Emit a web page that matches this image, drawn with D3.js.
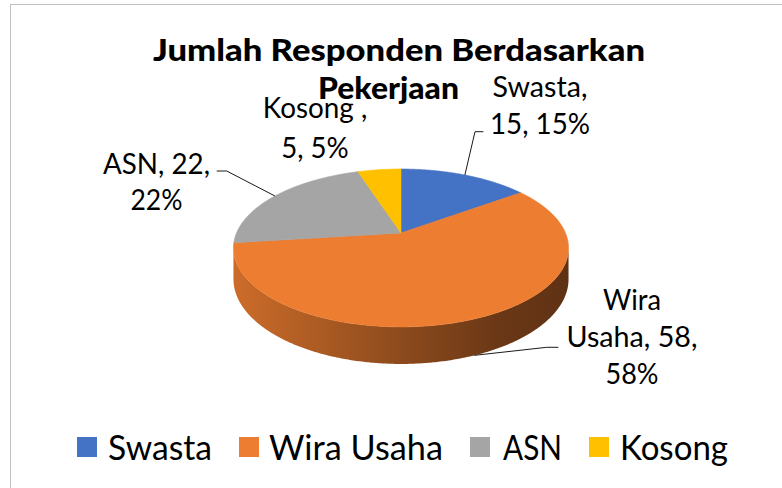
<!DOCTYPE html>
<html>
<head>
<meta charset="utf-8">
<script src="https://cdn.jsdelivr.net/npm/d3@7"></script>
<style>
  html, body { margin: 0; padding: 0; background: #fff; }
  svg { display: block; }
</style>
</head>
<body>
<svg id="chart" width="782" height="488"></svg>
<script>
// ---- data ----
const categories = ["Swasta", "Wira Usaha", "ASN", "Kosong "];
const values = [15, 58, 22, 5];
const titleLines = ["Jumlah Responden Berdasarkan", "Pekerjaan"];

// ---- styles / layout ----
const colors = ["#4472C4", "#ED7D31", "#A5A5A5", "#FFC000"];
const geo = { cx: 401, cy: 233, rx: 164.5, ry: 76.1, D: 5.27, depth: 30 };
const font = "Lato, 'Open Sans', sans-serif";

const labelLayout = [
  { breaks: [1, 3], cx: 540, base: 97, lh: 37, w: [95, 100], leader: [[483.3, 131.7], [475, 131.7]], toBottom: false },
  { breaks: [1, 3, 4], cx: 632, base: 309.5, lh: 37, w: [58, 131, 53], leader: [[558.3, 347.3], [546.7, 347.3]], toBottom: true },
  { breaks: [2, 3], cx: 156.5, base: 174, lh: 36, w: [107, 52], leader: [[216.7, 171], [226.7, 171]], toBottom: false },
  { breaks: [2, 4], cx: 315, base: 117.5, lh: 40, w: [104.5, 67.5], leader: null }
];
const legendLayout = { y: 437, size: 20, base: 460,
  items: [ { sx: 77, tx: 108, tw: 104 }, { sx: 239, tx: 269, tw: 174 },
           { sx: 470, tx: 503, tw: 59 }, { sx: 589, tx: 620, tw: 108 } ] };
const titleLayout = [{ x: 399, y: 61, w: 492 }, { x: 388.5, y: 99, w: 141 }];

const svg = d3.select("#chart");
const color = d3.scaleOrdinal().domain(categories).range(colors);

// border (chart area frame)
svg.append("rect").attr("x", 10.5).attr("y", 4.5).attr("width", 900).attr("height", 600)
  .attr("fill", "#fff").attr("stroke", "#BFBFBF").attr("stroke-width", 1);

// ---- projection for 3D pie (clockwise from 12 o'clock, far side up) ----
function proj(theta, drop) {
  const x = Math.sin(theta), z = -Math.cos(theta);
  const s = geo.D / (geo.D - z);
  return [geo.cx + geo.rx * x * s, geo.cy + geo.ry * z * s + (drop || 0) * s];
}
const step = Math.PI / 360;
function arcPts(a0, a1, drop) {
  const n = Math.max(2, Math.ceil((a1 - a0) / step));
  return d3.range(n + 1).map(i => proj(a0 + (a1 - a0) * i / n, drop));
}

const pie = d3.pie().sort(null).value(d => d.value).startAngle(0).endAngle(2 * Math.PI);
const data = categories.map((c, i) => ({ cat: c, value: values[i] }));
const arcs = pie(data);
const total = d3.sum(values);

// per-slice side-wall gradients
const defs = svg.append("defs");
arcs.forEach((a, i) => {
  const g = defs.append("linearGradient").attr("id", "sideGrad" + i)
    .attr("gradientUnits", "userSpaceOnUse")
    .attr("x1", geo.cx - geo.rx * 1.02).attr("x2", geo.cx + geo.rx * 1.02)
    .attr("y1", 0).attr("y2", 0);
  const c = d3.rgb(colors[i]);
  [[0, 0.86], [0.45, 0.62], [0.78, 0.45], [1, 0.4]].forEach(([o, k]) => {
    g.append("stop").attr("offset", o)
      .attr("stop-color", d3.rgb(c.r * k, c.g * k, c.b * k).formatHex());
  });
});

const line = d3.line();
const thL = Math.acos(-1 / geo.D), thR = 2 * Math.PI - thL;

// side walls
const sides = svg.append("g");
arcs.forEach((a, i) => {
  const a0 = Math.max(a.startAngle, thL), a1 = Math.min(a.endAngle, thR);
  if (a1 <= a0) return;
  const top = arcPts(a0, a1, 0);
  const bot = arcPts(a0, a1, geo.depth).reverse();
  sides.append("path").attr("d", line(top.concat(bot)) + "Z")
    .attr("fill", "url(#sideGrad" + i + ")");
});

// top faces
const tops = svg.append("g");
arcs.forEach((a, i) => {
  const pts = [[geo.cx, geo.cy]].concat(arcPts(a.startAngle, a.endAngle, 0));
  tops.append("path").attr("d", line(pts) + "Z")
    .attr("fill", color(a.data.cat))
    .attr("stroke", color(a.data.cat)).attr("stroke-width", 0.6)
    .attr("stroke-linejoin", "round");
});

// ---- data labels ----
const lbl = svg.append("g").attr("font-family", font).attr("font-size", 29).attr("fill", "#000");
arcs.forEach((a, i) => {
  const L = labelLayout[i];
  const pct = Math.round(a.data.value / total * 100);
  const tokens = `${a.data.cat}, ${a.data.value}, ${pct}%`.split(/\s+/);
  let prev = 0;
  L.breaks.forEach((b, li) => {
    lbl.append("text").attr("x", L.cx).attr("y", L.base + li * L.lh)
      .attr("text-anchor", "middle")
      .attr("textLength", L.w[li]).attr("lengthAdjust", "spacingAndGlyphs")
      .text(tokens.slice(prev, b).join(" "));
    prev = b;
  });
  if (L.leader) {
    const mid = (a.startAngle + a.endAngle) / 2;
    const end = proj(mid, L.toBottom ? geo.depth : 0);
    svg.append("path").attr("d", line(L.leader.concat([end])))
      .attr("fill", "none").attr("stroke", "#1a1a1a").attr("stroke-width", 1);
  }
});

// ---- title ----
const title = svg.append("g").attr("font-family", font).attr("font-weight", 900)
  .attr("font-size", 30).attr("fill", "#000");
titleLines.forEach((t, i) => {
  title.append("text").attr("x", titleLayout[i].x).attr("y", titleLayout[i].y)
    .attr("text-anchor", "middle")
    .attr("textLength", titleLayout[i].w).attr("lengthAdjust", "spacingAndGlyphs")
    .text(t);
});

// ---- legend ----
const leg = svg.append("g").attr("font-family", font).attr("font-size", 34).attr("fill", "#000");
categories.forEach((c, i) => {
  const it = legendLayout.items[i];
  leg.append("rect").attr("x", it.sx).attr("y", legendLayout.y)
    .attr("width", legendLayout.size).attr("height", legendLayout.size)
    .attr("fill", color(c));
  leg.append("text").attr("x", it.tx).attr("y", legendLayout.base)
    .attr("textLength", it.tw).attr("lengthAdjust", "spacingAndGlyphs")
    .text(c.trim());
});
</script>
</body>
</html>
